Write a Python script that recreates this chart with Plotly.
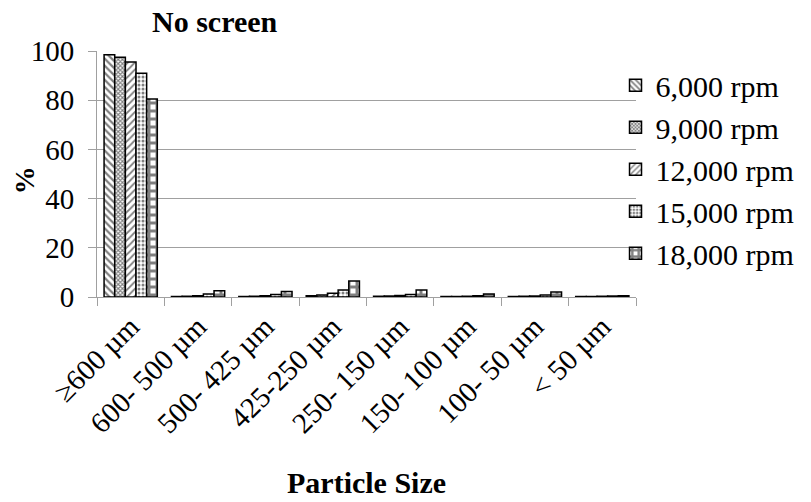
import plotly.graph_objects as go

categories = ["≥600 µm", "600- 500 µm", "500- 425 µm", "425-250 µm",
              "250- 150 µm", "150- 100 µm", "100- 50 µm", "< 50 µm"]
series_names = ["6,000 rpm", "9,000 rpm", "12,000 rpm", "15,000 rpm", "18,000 rpm"]
rpm_6000 = [98.5, 0.2, 0.2, 0.5, 0.3, 0.2, 0.2, 0.2]
rpm_9000 = [97.5, 0.3, 0.3, 0.8, 0.4, 0.2, 0.3, 0.2]
rpm_12000 = [95.5, 0.5, 0.5, 1.5, 0.6, 0.3, 0.4, 0.3]
rpm_15000 = [91.0, 1.2, 1.0, 2.8, 1.0, 0.5, 0.8, 0.4]
rpm_18000 = [80.5, 2.5, 2.2, 6.5, 2.8, 1.2, 2.0, 0.5]
values = [rpm_6000, rpm_9000, rpm_12000, rpm_15000, rpm_18000]

patterns = [
    dict(shape="\\", size=5, solidity=0.45),
    dict(shape="x", size=3, solidity=0.6),
    dict(shape="/", size=5, solidity=0.35),
    dict(shape=".", size=4, solidity=0.45),
    dict(shape="+", size=8, solidity=0.6),
]

FONT = "Liberation Serif"

fig = go.Figure()
for name, vals, pat in zip(series_names, values, patterns):
    fig.add_trace(go.Bar(
        x=categories, y=vals, name=name,
        marker=dict(color="white", line=dict(color="black", width=1.5),
                    pattern=dict(fgcolor="black", bgcolor="white", fillmode="overlay", **pat)),
    ))

fig.update_layout(
    width=811, height=502,
    margin=dict(l=97, r=175, t=51, b=205, autoexpand=False),
    paper_bgcolor="white", plot_bgcolor="white",
    barmode="group", bargap=0.21, bargroupgap=0,
    font=dict(family=FONT, color="black", size=24),
    showlegend=True,
    legend=dict(x=0.962, y=0.966, xanchor="left", yanchor="top",
                font=dict(family=FONT, size=30), tracegroupgap=0,
                itemwidth=30, bgcolor="rgba(0,0,0,0)"),
    xaxis=dict(type="category", tickangle=-45, tickson="boundaries",
               ticks="outside", ticklen=8, tickcolor="#a0a0a0",
               showline=True, linecolor="#a0a0a0", linewidth=1,
               tickfont=dict(family=FONT, size=29), showgrid=False),
    yaxis=dict(range=[0, 100], dtick=20, ticks="outside", ticklen=8,
               tickcolor="#a0a0a0", showline=True, linecolor="#a0a0a0",
               showgrid=True, gridcolor="#a0a0a0", gridwidth=1,
               ticklabelstandoff=8,
               tickfont=dict(family=FONT, size=29), zeroline=False),
    annotations=[
        dict(text="<b>No screen</b>", xref="paper", yref="paper",
             x=(215 - 97) / 539, y=1.0, yshift=30, xanchor="center", yanchor="middle",
             showarrow=False, font=dict(family=FONT, size=30)),
        dict(text="<b>Particle Size</b>", xref="paper", yref="paper",
             x=0.5, y=0, yshift=-167, xanchor="center", yanchor="top",
             showarrow=False, font=dict(family=FONT, size=30)),
        dict(text="<b>%</b>", xref="paper", yref="paper",
             x=0, xshift=-73, y=(296.7 - 180) / 246, xanchor="center", yanchor="middle",
             textangle=-90, showarrow=False, font=dict(family=FONT, size=28)),
    ],
)

fig.write_html("out.html")
